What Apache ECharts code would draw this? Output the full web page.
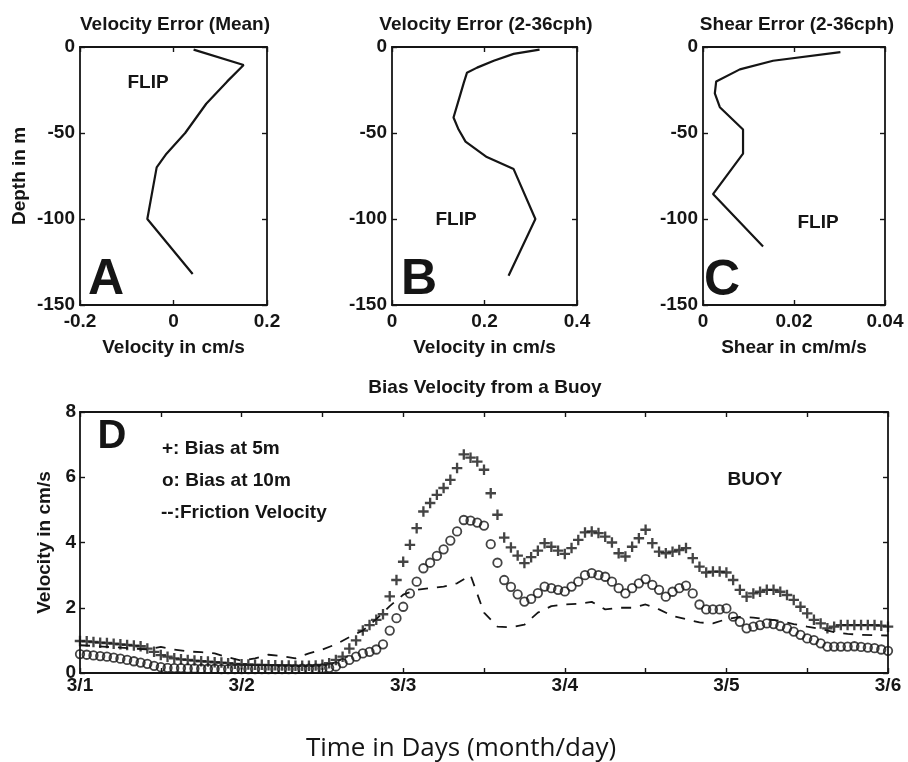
<!DOCTYPE html>
<html>
<head>
<meta charset="utf-8">
<script src="https://cdn.jsdelivr.net/npm/echarts@6/dist/echarts.min.js"></script>
<style>
  html, body { margin: 0; background: #fff; }
  #chart { width: 908px; height: 762px; }
</style>
</head>
<body>
<div id="chart"></div>
<script>
// panel A: mean velocity error vs depth
const depthA = [-1.5, -10.5, -20, -33, -50, -62, -70, -100, -132]
const velA = [0.043, 0.15, 0.115, 0.07, 0.025, -0.015, -0.036, -0.056, 0.041]
// panel B: velocity error 2-36cph
const depthB = [-1.5, -4, -8, -12, -15, -21, -31, -41, -48, -55, -64, -71, -100, -133]
const velB = [0.319, 0.263, 0.22, 0.184, 0.162, 0.155, 0.144, 0.133, 0.144, 0.159, 0.205, 0.263, 0.31, 0.252]
// panel C: shear error 2-36cph
const depthC = [-3, -8, -13, -20, -27, -35, -48, -62, -85.5, -116]
const shearC = [0.0302, 0.0154, 0.0081, 0.0029, 0.0026, 0.0037, 0.0088, 0.0088, 0.0022, 0.0132]

// panel D: hourly samples starting 3/1 00:00
const bias5m = [
  0.98, 0.97, 0.95, 0.93, 0.92, 0.90, 0.88, 0.86, 0.84, 0.82,
  0.75, 0.65, 0.55, 0.50, 0.45, 0.42, 0.40, 0.38, 0.36, 0.35,
  0.33, 0.32, 0.30, 0.28, 0.27, 0.26, 0.25, 0.25, 0.24, 0.24,
  0.23, 0.23, 0.22, 0.22, 0.22, 0.23, 0.25, 0.30, 0.40, 0.50,
  0.75, 1.00, 1.30, 1.47, 1.63, 1.80, 2.35, 2.85, 3.41, 3.93,
  4.44, 4.95, 5.21, 5.46, 5.67, 5.92, 6.28, 6.70, 6.60, 6.48,
  6.23, 5.51, 4.85, 4.15, 3.85, 3.60, 3.37, 3.55, 3.75, 3.98,
  3.87, 3.75, 3.65, 3.83, 4.08, 4.31, 4.34, 4.29, 4.18, 4.00,
  3.67, 3.57, 3.87, 4.13, 4.39, 3.98, 3.72, 3.67, 3.72, 3.77,
  3.83, 3.52, 3.26, 3.08, 3.11, 3.11, 3.08, 2.85, 2.55, 2.34,
  2.44, 2.49, 2.55, 2.55, 2.49, 2.39, 2.24, 2.03, 1.83, 1.63,
  1.52, 1.37, 1.42, 1.47, 1.47, 1.47, 1.47, 1.47, 1.47, 1.45,
  1.42
]
const bias10m = [
  0.58, 0.56, 0.54, 0.52, 0.50, 0.47, 0.44, 0.40, 0.36, 0.32,
  0.28, 0.22, 0.18, 0.16, 0.15, 0.15, 0.14, 0.14, 0.13, 0.13,
  0.13, 0.12, 0.12, 0.12, 0.12, 0.12, 0.12, 0.12, 0.12, 0.12,
  0.12, 0.12, 0.12, 0.13, 0.13, 0.13, 0.14, 0.16, 0.20, 0.30,
  0.40, 0.50, 0.60, 0.65, 0.72, 0.88, 1.30, 1.68, 2.03, 2.44,
  2.80, 3.21, 3.38, 3.59, 3.79, 4.06, 4.34, 4.69, 4.67, 4.61,
  4.52, 3.95, 3.38, 2.85, 2.64, 2.41, 2.19, 2.27, 2.45, 2.65,
  2.60, 2.55, 2.50, 2.65, 2.80, 3.00, 3.06, 3.00, 2.95, 2.80,
  2.60, 2.44, 2.60, 2.75, 2.88, 2.70, 2.55, 2.34, 2.49, 2.60,
  2.68, 2.44, 2.10, 1.95, 1.95, 1.95, 1.98, 1.73, 1.57, 1.37,
  1.42, 1.47, 1.52, 1.50, 1.44, 1.37, 1.27, 1.17, 1.06, 1.01,
  0.91, 0.81, 0.81, 0.81, 0.81, 0.82, 0.80, 0.78, 0.76, 0.72,
  0.68
]
// friction velocity, every 2 hours
const friction = [
  0.85, 0.83, 0.80, 0.78, 0.75, 0.72, 0.80, 0.72, 0.66, 0.64,
  0.60, 0.48, 0.38, 0.45, 0.56, 0.52, 0.45, 0.60, 0.72, 0.88,
  1.10, 1.30, 1.65, 2.05, 2.40, 2.55, 2.60, 2.65, 2.75, 3.00,
  1.85, 1.42, 1.40, 1.48, 1.85, 2.05, 2.10, 2.12, 2.18, 1.95,
  2.00, 2.00, 2.10, 1.95, 1.75, 1.65, 1.55, 1.52, 1.65, 1.72,
  1.70, 1.65, 1.60, 1.50, 1.42, 1.35, 1.25, 1.20, 1.17, 1.16,
  1.15
]
const dayLabels = ['3/1', '3/2', '3/3', '3/4', '3/5', '3/6']

const FONT = 'Liberation Sans, Arial, sans-serif'
const INK = '#151515'

const grids = [
  { left: 80, top: 47, width: 187, height: 258 },
  { left: 392, top: 47, width: 185, height: 258 },
  { left: 703, top: 47, width: 182, height: 258 },
  { left: 80, top: 412, width: 808, height: 261 }
]

const xAxes = []
const yAxes = []

function boxAxes(g, x, y) {
  const line = { show: true, onZero: false, lineStyle: { color: INK, width: 1.8 } }
  const tick = { show: true, inside: true, length: 5, lineStyle: { color: INK, width: 1.4 } }
  const lab = { color: INK, fontFamily: FONT, fontSize: 19, fontWeight: 'bold' }
  const nameStyle = { color: INK, fontFamily: FONT, fontSize: 19, fontWeight: 'bold' }
  xAxes.push(Object.assign({
    type: 'value', gridIndex: g, position: 'bottom', min: x.min, max: x.max, interval: x.interval,
    axisLine: line, axisTick: tick, splitLine: { show: false },
    axisLabel: Object.assign({ margin: x.margin || 7, showMinLabel: true, showMaxLabel: true }, lab, x.label || {}),
    nameTextStyle: nameStyle
  }, x.extra || {}))
  xAxes.push({
    type: 'value', gridIndex: g, position: 'top', min: x.min, max: x.max, interval: x.interval,
    axisLine: line, axisTick: tick, axisLabel: { show: false }, splitLine: { show: false }
  })
  yAxes.push(Object.assign({
    type: 'value', gridIndex: g, position: 'left', min: y.min, max: y.max, interval: y.interval,
    axisLine: line, axisTick: tick, splitLine: { show: false },
    axisLabel: Object.assign({ margin: y.margin || 5, showMinLabel: true, showMaxLabel: true }, lab),
    nameTextStyle: nameStyle
  }, y.extra || {}))
  yAxes.push({
    type: 'value', gridIndex: g, position: 'right', min: y.min, max: y.max, interval: y.interval,
    axisLine: line, axisTick: tick, axisLabel: { show: false }, splitLine: { show: false }
  })
}

const depthAxis = { min: -150, max: 0, interval: 50 }
const velName = { name: 'Velocity in cm/s', nameLocation: 'middle', nameGap: 33 }

boxAxes(0, { min: -0.2, max: 0.2, interval: 0.2, extra: velName },
  Object.assign({ extra: { name: 'Depth in m', nameLocation: 'middle', nameGap: 51 } }, depthAxis))
boxAxes(1, { min: 0, max: 0.4, interval: 0.2, extra: velName }, depthAxis)
boxAxes(2, { min: 0, max: 0.04, interval: 0.02,
  extra: { name: 'Shear in cm/m/s', nameLocation: 'middle', nameGap: 33 } }, depthAxis)
boxAxes(3, { min: 0, max: 5, interval: 0.5, margin: 3,
  label: { formatter: v => Number.isInteger(v) ? dayLabels[v] : '' } },
  { min: 0, max: 8, interval: 2, margin: 4,
    extra: { name: 'Velocity in cm/s', nameLocation: 'middle', nameGap: 24 } })

function pairs(xs, ys) {
  return xs.map((x, i) => [x, ys[i]])
}

const profileLine = { type: 'line', showSymbol: false, symbol: 'none',
  lineStyle: { color: INK, width: 2.2 }, z: 3 }

// plus marker, bars a bit heavier than a hairline like the printed figure
const PLUS = 'path://M0 3.9H10V6.1H0Z M3.9 0H6.1V10H3.9Z'

const series = [
  Object.assign({ xAxisIndex: 0, yAxisIndex: 0, data: pairs(velA, depthA) }, profileLine),
  Object.assign({ xAxisIndex: 2, yAxisIndex: 2, data: pairs(velB, depthB) }, profileLine),
  Object.assign({ xAxisIndex: 4, yAxisIndex: 4, data: pairs(shearC, depthC) }, profileLine),
  {
    type: 'scatter', xAxisIndex: 6, yAxisIndex: 6,
    data: bias5m.map((v, i) => [i / 24, v]),
    symbol: PLUS, symbolSize: 10.5, itemStyle: { color: INK }
  },
  {
    type: 'scatter', xAxisIndex: 6, yAxisIndex: 6,
    data: bias10m.map((v, i) => [i / 24, v]),
    symbol: 'circle', symbolSize: 8.5,
    itemStyle: { color: 'rgba(0,0,0,0)', borderColor: INK, borderWidth: 1.8 }
  },
  {
    type: 'line', xAxisIndex: 6, yAxisIndex: 6, showSymbol: false, symbol: 'none',
    data: friction.map((v, i) => [i / 12, v]),
    lineStyle: { color: INK, width: 1.8, type: [10, 9] }
  }
]

function txt(x, y, text, font, align) {
  return {
    type: 'text', x: x, y: y, z: 100,
    style: {
      text: text, font: font, fill: INK,
      align: align || 'center', verticalAlign: 'middle',
      textAlign: align || 'center', textVerticalAlign: 'middle'
    }
  }
}

const f19 = 'bold 19px ' + FONT
const big = 'bold 50px ' + FONT

const graphic = [
  txt(175, 25, 'Velocity Error (Mean)', f19),
  txt(486, 25, 'Velocity Error (2-36cph)', f19),
  txt(797, 25, 'Shear Error (2-36cph)', f19),
  txt(485, 388, 'Bias Velocity from a Buoy', f19),
  txt(148, 83, 'FLIP', f19),
  txt(456, 220, 'FLIP', f19),
  txt(818, 223, 'FLIP', f19),
  txt(106, 280, 'A', big),
  txt(419, 280, 'B', big),
  txt(722, 281, 'C', big),
  txt(112, 437, 'D', 'bold 40px ' + FONT),
  txt(162, 449, '+: Bias at 5m', f19, 'left'),
  txt(162, 481, 'o: Bias at 10m', f19, 'left'),
  txt(161, 513, '--:Friction Velocity', f19, 'left'),
  txt(755, 480, 'BUOY', f19),
  txt(461, 749, 'Time in Days (month/day)', '26px Open Sans, sans-serif')
]

const myChart = echarts.init(document.getElementById('chart'))
myChart.setOption({
  animation: false,
  backgroundColor: '#fff',
  grid: grids,
  xAxis: xAxes,
  yAxis: yAxes,
  series: series,
  graphic: graphic
})
</script>
</body>
</html>
